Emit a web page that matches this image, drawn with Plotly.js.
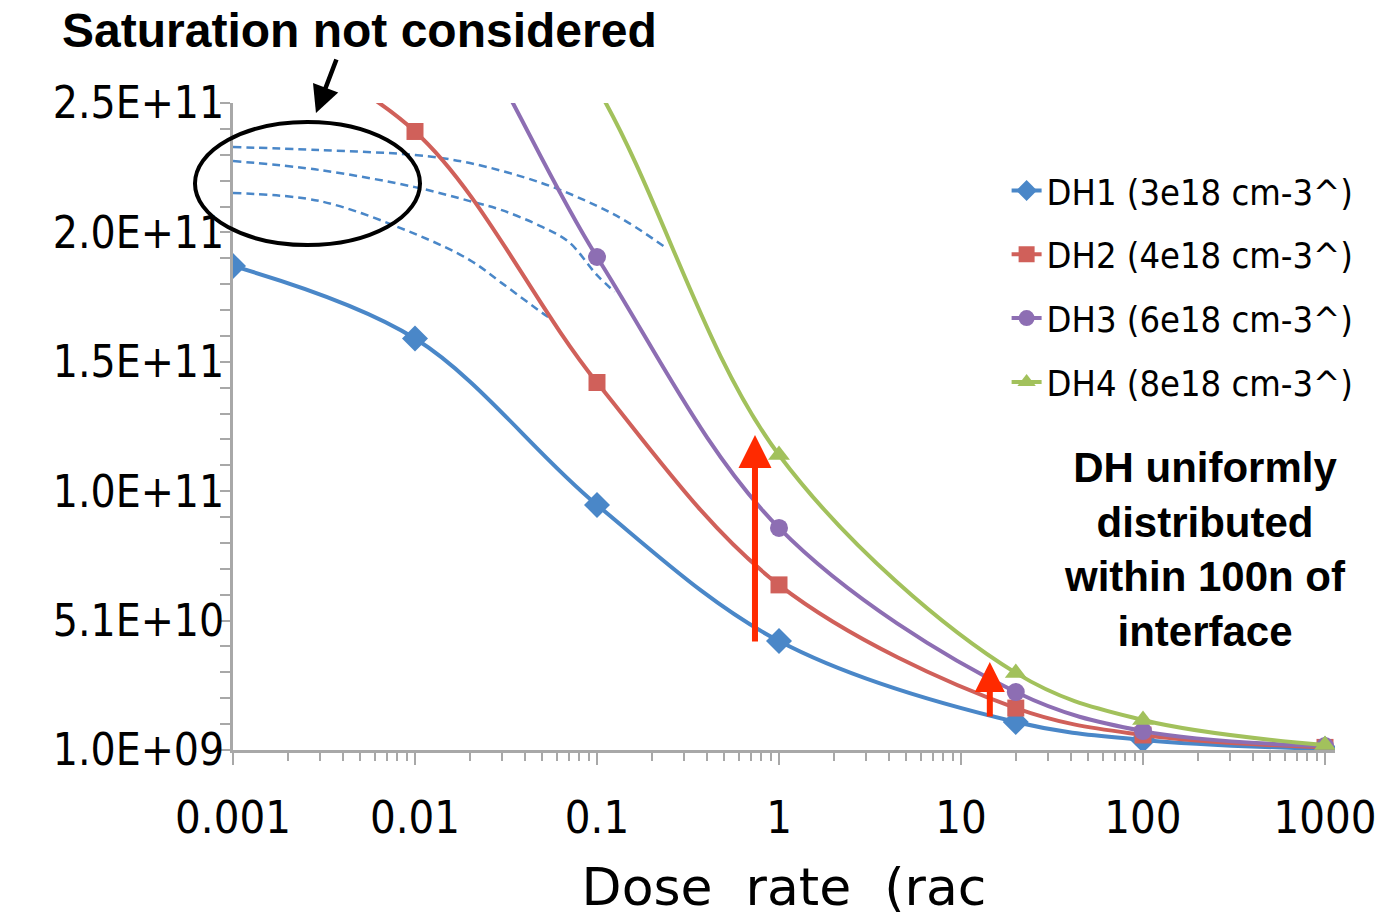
<!DOCTYPE html>
<html>
<head>
<meta charset="utf-8">
<script src="https://cdn.plot.ly/plotly-3.0.1.min.js"></script>
<style>
  html, body { margin: 0; padding: 0; background: #ffffff; }
  #chart { width: 1379px; height: 918px; }
</style>
</head>
<body>
<div id="chart"></div>
<script>
// Dose rate (rad/s) at which the solid curves are sampled
const doseRate = [0.001, 0.01, 0.1, 1, 20, 100, 1000];
// Interface trap density for each DH concentration
const dh1 = [1.88e11, 1.60e11, 9.57e10, 4.31e10, 1.18e10, 4.9e9, 1.4e9];
const dh2 = [2.82e11, 2.40e11, 1.43e11, 6.48e10, 1.72e10, 6.8e9, 2.0e9];
const dh3 = [3.60e11, 3.10e11, 1.915e11, 8.68e10, 2.34e10, 8.3e9, 2.5e9];
const dh4 = [4.20e11, 3.60e11, 2.57e11, 1.15e11, 3.08e10, 1.26e10, 2.9e9];
const seriesNames = ["DH1 (3e18 cm-3^)", "DH2 (4e18 cm-3^)", "DH3 (6e18 cm-3^)", "DH4 (8e18 cm-3^)"];

// Dashed "saturation" curves
const satTopX = [0.001, 0.003, 0.01, 0.02, 0.05, 0.1, 0.15, 0.24];
const satTopY = [2.34e11, 2.328e11, 2.309e11, 2.278e11, 2.20e11, 2.112e11, 2.046e11, 1.95e11];
const satMidX = [0.001, 0.003, 0.01, 0.02, 0.03, 0.05, 0.07, 0.1, 0.125];
const satMidY = [2.286e11, 2.251e11, 2.185e11, 2.131e11, 2.096e11, 2.031e11, 1.973e11, 1.845e11, 1.78e11];
const satLowX = [0.001, 0.003, 0.01, 0.02, 0.03, 0.05, 0.057];
const satLowY = [2.162e11, 2.131e11, 2.004e11, 1.903e11, 1.814e11, 1.699e11, 1.672e11];

// Axis ticks
const xTickVals = [0.001, 0.01, 0.1, 1, 10, 100, 1000];
const xTickText = ["0.001", "0.01", "0.1", "1", "10", "100", "1000"];
const yTickVals = [1e9, 5.1e10, 1.01e11, 1.51e11, 2.01e11, 2.51e11];
const yTickText = ["1.0E+09", "5.1E+10", "1.0E+11", "1.5E+11", "2.0E+11", "2.5E+11"];

const colors = ["#4A87C8", "#D0605A", "#8D6EB3", "#A2C15C"];
const symbols = ["diamond", "square", "circle", "triangle-up"];
const markerSizes = [20, 17, 18, 19];
const values = [dh1, dh2, dh3, dh4];

const traces = [];
[[satTopX, satTopY], [satMidX, satMidY], [satLowX, satLowY]].forEach(function (s) {
  traces.push({
    x: s[0], y: s[1], type: "scatter", mode: "lines",
    line: { color: "#4A87C8", width: 2.5, dash: "8px,5px", shape: "spline" },
    showlegend: false, hoverinfo: "skip"
  });
});
values.forEach(function (v, i) {
  traces.push({
    x: doseRate, y: v, type: "scatter", mode: "lines+markers",
    name: seriesNames[i], legendgroup: "g" + i,
    line: { color: colors[i], width: 4, shape: "spline" },
    marker: { color: colors[i], symbol: symbols[i], size: markerSizes[i] }
  });
});

const condensed = "DejaVu Sans Condensed, DejaVu Sans, sans-serif";
const axisGray = "#A8A8A8";

const layout = {
  width: 1379, height: 918,
  paper_bgcolor: "#ffffff", plot_bgcolor: "#ffffff",
  margin: { l: 233, r: 44, t: 103, b: 168, autoexpand: false },
  showlegend: true,
  title: {
    text: "<b>Saturation not considered</b>",
    font: { family: "Liberation Sans, Arial, sans-serif", size: 48, color: "#000" },
    xref: "container", x: 62 / 1379, xanchor: "left",
    yref: "container", y: 1 - 30 / 918, yanchor: "middle"
  },
  xaxis: {
    type: "log", range: [-3, 3.055], automargin: false,
    tickmode: "array", tickvals: xTickVals, ticktext: xTickText,
    tickfont: { family: condensed, size: 45, color: "#000" },
    ticks: "outside", ticklen: 12, tickwidth: 2, tickcolor: axisGray,
    ticklabelstandoff: 14,
    minor: { ticks: "outside", ticklen: 8, tickwidth: 2, tickcolor: axisGray, dtick: "D1" },
    showline: true, linecolor: axisGray, linewidth: 3,
    showgrid: false, zeroline: false,
    title: {
      text: "Dose\u00a0 rate\u00a0 (rac",
      font: { family: "DejaVu Sans, sans-serif", size: 52, color: "#000" },
      standoff: 26
    }
  },
  yaxis: {
    type: "linear", range: [1e9, 2.51e11], automargin: false,
    tickmode: "array", tickvals: yTickVals, ticktext: yTickText,
    tickfont: { family: condensed, size: 44, color: "#000" },
    ticks: "outside", ticklen: 10, tickwidth: 2, tickcolor: axisGray,
    ticklabelstandoff: -13,
    minor: { ticks: "outside", ticklen: 10, tickwidth: 2, tickcolor: axisGray, dtick: 1e10, tick0: 1e9 },
    showline: true, linecolor: axisGray, linewidth: 3,
    showgrid: false, zeroline: false
  },
  legend: {
    x: 0.702, xanchor: "left", y: 0.911, yanchor: "top",
    font: { family: condensed, size: 36, color: "#000" },
    bgcolor: "rgba(0,0,0,0)", borderwidth: 0, tracegroupgap: 14
  },
  shapes: [
    {
      type: "circle", xref: "paper", yref: "paper",
      x0: -0.0345, x1: 0.1697, y0: 0.7805, y1: 0.9706,
      line: { color: "#000", width: 4 }
    }
  ],
  annotations: [
    {
      xref: "paper", yref: "paper", x: 0.0753, y: 0.9845,
      ax: 21, ay: -55, text: "", showarrow: true,
      arrowhead: 2, arrowsize: 1.2, arrowwidth: 4.5, arrowcolor: "#000"
    },
    {
      xref: "x", yref: "y", x: Math.log10(0.738), y: 1.227e11,
      ax: 0, ay: 208, text: "", showarrow: true,
      arrowhead: 2, arrowsize: 1.1, arrowwidth: 6, arrowcolor: "#FF2A00"
    },
    {
      xref: "x", yref: "y", x: Math.log10(14.4), y: 3.5e10,
      ax: 0, ay: 56, text: "", showarrow: true,
      arrowhead: 2, arrowsize: 1.0, arrowwidth: 6, arrowcolor: "#FF2A00"
    },
    {
      xref: "paper", yref: "paper", x: (1205 - 233) / 1102, y: (750 - 549) / 647,
      xanchor: "center", yanchor: "middle", showarrow: false, align: "center",
      text: "<b>DH uniformly<br>distributed<br>within 100n of<br>interface</b>",
      font: { family: "Liberation Sans, Arial, sans-serif", size: 42, color: "#000" }
    }
  ],
  hovermode: false
};

Plotly.newPlot("chart", traces, layout, { displayModeBar: false, staticPlot: true });
</script>
</body>
</html>
